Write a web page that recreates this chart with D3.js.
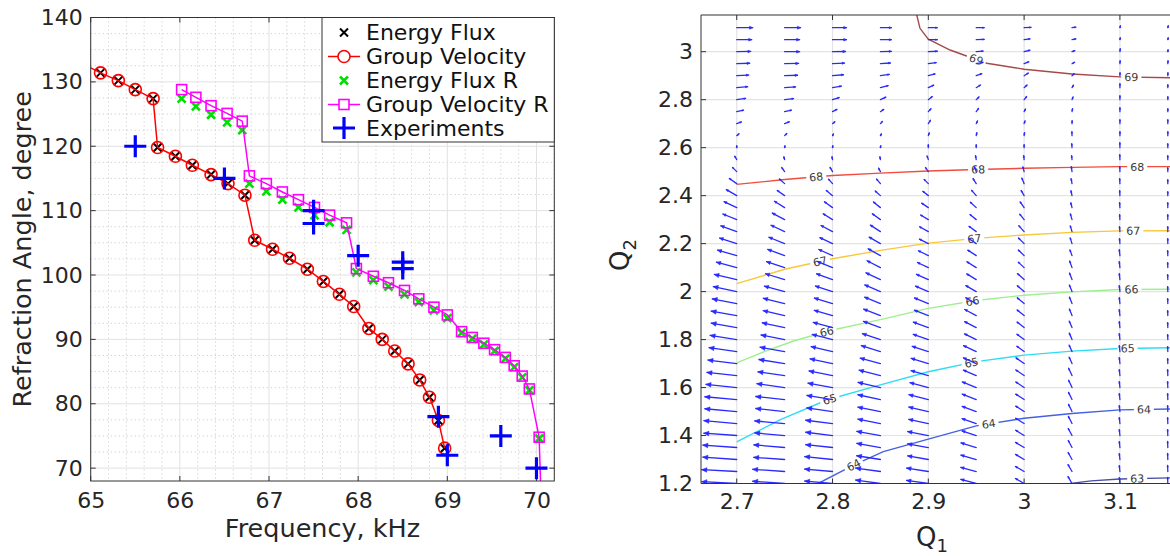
<!DOCTYPE html>
<html><head><meta charset="utf-8">
<script src="https://cdn.jsdelivr.net/npm/d3@7"></script>
<style>
body{margin:0;background:#fff;}
svg{display:block;font-family:"DejaVu Sans",sans-serif;}
</style></head><body>
<svg id="chart" width="1170" height="556"></svg>
<script>
// ---------------- LEFT PANEL DATA ----------------
const freqTicks = [65, 66, 67, 68, 69, 70];
const angleTicks = [70, 80, 90, 100, 110, 120, 130, 140];

const energyFluxFreq  = [64.92, 65.11, 65.31, 65.50, 65.70, 65.75, 65.95, 66.14, 66.35, 66.54, 66.73, 66.84, 67.04, 67.23, 67.43, 67.61, 67.79, 67.95, 68.12, 68.27, 68.41, 68.56, 68.69, 68.80, 68.90, 68.97];
const energyFluxAngle = [132.75, 131.4, 130.2, 128.8, 127.4, 119.8, 118.45, 117.05, 115.6, 114.2, 112.4, 105.4, 104.0, 102.6, 100.9, 99.0, 97.0, 95.1, 91.7, 90.0, 88.2, 86.2, 83.7, 81.0, 77.4, 73.1];
const groupVelFreq    = [64.92, 65.11, 65.31, 65.50, 65.70, 65.75, 65.95, 66.14, 66.35, 66.54, 66.73, 66.84, 67.04, 67.23, 67.43, 67.61, 67.79, 67.95, 68.12, 68.27, 68.41, 68.56, 68.69, 68.80, 68.90, 68.97];
const groupVelAngle   = [132.75, 131.4, 130.2, 128.8, 127.4, 119.8, 118.45, 117.05, 115.6, 114.2, 112.4, 105.4, 104.0, 102.6, 100.9, 99.0, 97.0, 95.1, 91.7, 90.0, 88.2, 86.2, 83.7, 81.0, 77.4, 73.1];

const energyFluxRFreq  = [66.02, 66.18, 66.35, 66.53, 66.70, 66.78, 66.97, 67.15, 67.33, 67.51, 67.68, 67.87, 67.98, 68.17, 68.34, 68.52, 68.68, 68.85, 69.00, 69.16, 69.28, 69.41, 69.53, 69.65, 69.75, 69.84, 69.92, 70.03];
const energyFluxRAngle = [127.4, 126.2, 124.9, 123.7, 122.5, 114.2, 113.0, 111.7, 110.5, 109.3, 108.2, 107.0, 100.4, 99.2, 98.2, 97.0, 95.8, 94.5, 93.3, 91.0, 90.1, 89.2, 88.2, 87.0, 85.7, 84.1, 82.1, 74.6];
const groupVelRFreq    = [66.02, 66.18, 66.35, 66.53, 66.70, 66.78, 66.97, 67.15, 67.33, 67.51, 67.68, 67.87, 67.98, 68.17, 68.34, 68.52, 68.68, 68.85, 69.00, 69.16, 69.28, 69.41, 69.53, 69.65, 69.75, 69.84, 69.92, 70.03, 70.05];
const groupVelRAngle   = [128.8, 127.6, 126.3, 125.1, 123.9, 115.4, 114.2, 112.9, 111.7, 110.5, 109.3, 108.1, 101.0, 99.8, 98.8, 97.6, 96.3, 95.0, 93.8, 91.2, 90.3, 89.4, 88.4, 87.2, 85.9, 84.3, 82.3, 74.8, 66.0];

const experimentFreq  = [65.5, 66.5, 67.5, 67.5, 68.0, 68.5, 68.5, 68.9, 69.0, 69.6, 70.0];
const experimentAngle = [120, 115, 110, 108, 103, 102, 101, 78, 72, 75, 70];

const legendLabels = ["Energy Flux", "Group Velocity", "Energy Flux R", "Group Velocity R", "Experiments"];

// ---------------- RIGHT PANEL DATA ----------------
const q1Ticks = [2.7, 2.8, 2.9, 3.0, 3.1];
const q1TickLabels = ["2.7", "2.8", "2.9", "3", "3.1"];
const q2Ticks = [1.2, 1.4, 1.6, 1.8, 2.0, 2.2, 2.4, 2.6, 2.8, 3.0];
const q2TickLabels = ["1.2", "1.4", "1.6", "1.8", "2", "2.2", "2.4", "2.6", "2.8", "3"];

const quiverQ1 = [2.7, 2.75, 2.8, 2.85, 2.9, 2.95, 3.0, 3.05, 3.1, 3.15];
const quiverQ2 = [1.2, 1.25, 1.3, 1.35, 1.4, 1.45, 1.5, 1.55, 1.6, 1.65, 1.7, 1.75, 1.8, 1.85, 1.9, 1.95, 2.0, 2.05, 2.1, 2.15, 2.2, 2.25, 2.3, 2.35, 2.4, 2.45, 2.5, 2.55, 2.6, 2.65, 2.7, 2.75, 2.8, 2.85, 2.9, 2.95, 3.0, 3.05, 3.1];
// vector magnitude (one row per Q1 column, bottom to top)
const quiverMag = [
 [35,35,34,34,33,33,32,32,31,30,29,28,27,26,26,25,24,23,21,20,18,17,15,14,12,9,6,4,2,3,5,7,9,11,12,13,14,15,16],
 [32,32,31,31,30,30,29,29,28,27,26,25,24,23,22,22,21,20,19,18,17,15,14,12,9,7,5,3,2,3,5,7,9,11,13,14,15,15,16],
 [28,28,28,27,27,27,26,26,25,24,23,22,21,20,19,19,18,17,16,15,14,13,11,10,8,6,5,3,2,2,3,5,7,9,11,12,13,14,14],
 [25,25,24,24,24,23,23,23,23,22,21,20,19,18,18,17,17,16,15,14,13,12,10,9,7,6,4,3,2,2,3,4,6,8,9,10,11,11,11],
 [22,22,21,21,21,20,20,20,19,18,18,17,16,16,15,15,14,13,12,11,10,10,9,8,7,6,5,4,3,3,4,4,5,6,7,8,9,9,9],
 [16,16,16,16,15,15,15,15,15,14,14,14,13,13,13,12,12,11,11,10,9,9,8,8,7,6,5,4,3,3,3,4,4,5,6,7,7,8,8],
 [10,10,10,10,10,10,10,10,10,10,10,9,9,9,9,9,9,9,8,8,8,8,7,7,6,6,5,4,3,3,3,3,4,4,5,5,6,6,7],
 [8,8,8,8,8,8,8,8,8,8,7,7,7,7,7,7,7,7,7,6,6,6,6,5,5,5,5,4,4,4,3,3,3,3,3,3,3,4,4],
 [6,6,6,6,6,6,6,6,6,6,6,6,6,6,6,6,6,6,6,6,5,5,5,5,5,5,5,5,5,4,4,4,4,4,3,3,3,2,2],
 [6,6,6,6,6,6,6,6,6,6,5,5,5,5,5,5,5,5,5,5,5,5,5,5,4,4,4,4,4,4,4,3,3,3,3,3,2,2,2]
];
// vector direction, degrees counter-clockwise from +Q1
const quiverDir = [
 [177,177,176,176,176,175,175,175,174,174,173,172,171,170,170,169,168,167,165,164,162,160,158,155,150,145,135,120,90,40,20,12,8,5,3,2,1,0,0],
 [176,176,176,175,175,175,174,174,172,172,171,170,169,168,167,166,165,163,162,160,158,155,152,148,145,138,125,105,80,45,22,12,7,4,2,1,0,0,0],
 [175,175,174,174,173,173,172,171,170,169,168,167,166,165,164,163,162,160,158,156,155,152,148,144,140,132,120,100,80,60,40,28,18,10,5,3,1,0,0],
 [172,172,171,170,170,169,169,168,167,166,165,163,162,160,159,158,157,155,153,151,150,147,144,141,138,130,118,100,80,62,48,35,25,15,8,4,2,0,0],
 [172,171,170,170,169,168,167,166,165,164,163,162,161,160,159,158,157,156,155,154,153,151,149,146,142,135,124,108,90,72,58,48,38,25,15,8,3,0,0],
 [165,165,164,163,162,161,160,159,158,157,156,155,154,153,152,151,150,149,148,147,146,144,141,137,131,122,110,100,90,78,65,55,45,32,20,10,5,2,0],
 [150,150,149,149,148,148,147,147,146,146,145,144,143,142,141,140,139,138,137,136,135,132,129,125,120,112,104,96,90,82,72,62,52,42,32,22,14,8,3],
 [120,120,119,118,118,117,116,116,115,115,114,114,113,113,112,112,112,111,110,110,108,107,106,104,102,100,98,96,94,92,88,80,70,60,45,30,20,12,8],
 [96,96,96,96,96,96,96,96,96,96,96,96,96,96,96,96,96,96,96,96,95,95,94,94,93,93,92,92,91,90,90,90,90,90,88,86,84,80,75],
 [92,92,92,92,92,92,92,92,92,92,92,92,92,92,92,92,92,92,92,92,91,91,91,91,91,91,91,91,91,90,90,90,90,90,88,86,84,80,78]
];

// contour lines (frequency levels, kHz)
const contourLevels = [63, 64, 65, 66, 67, 68, 69];
const contourQ1 = [
 [3.04, 3.07, 3.1, 3.16],
 [2.78, 2.785, 2.822, 2.853, 2.9, 2.95, 3.0, 3.05, 3.1, 3.16],
 [2.7, 2.745, 2.794, 2.85, 2.9, 2.95, 3.0, 3.05, 3.1, 3.16],
 [2.7, 2.73, 2.76, 2.8, 2.85, 2.9, 2.95, 3.0, 3.05, 3.1, 3.16],
 [2.7, 2.75, 2.8, 2.85, 2.9, 2.95, 3.0, 3.05, 3.1, 3.16],
 [2.7, 2.75, 2.8, 2.85, 2.9, 2.95, 3.0, 3.05, 3.1, 3.16],
 [2.8875, 2.8913, 2.9, 2.9227, 2.9435, 2.961, 3.0, 3.05, 3.1, 3.16]
];
const contourQ2 = [
 [1.196, 1.211, 1.219, 1.224],
 [1.19, 1.2, 1.277, 1.333, 1.385, 1.44, 1.472, 1.492, 1.507, 1.511],
 [1.374, 1.465, 1.548, 1.611, 1.666, 1.708, 1.735, 1.752, 1.763, 1.766],
 [1.703, 1.752, 1.795, 1.84, 1.883, 1.93, 1.963, 1.985, 1.999, 2.009, 2.01],
 [2.033, 2.093, 2.137, 2.172, 2.202, 2.222, 2.236, 2.247, 2.253, 2.254],
 [2.447, 2.467, 2.484, 2.494, 2.503, 2.509, 2.514, 2.518, 2.521, 2.521],
 [3.16, 3.0975, 3.052, 3.007, 2.977, 2.952, 2.927, 2.907, 2.895, 2.891]
];
const contourLabelQ1 = [
 [3.118],
 [2.822, 2.963, 3.125],
 [2.797, 2.945, 3.108],
 [2.794, 2.946, 3.112],
 [2.787, 2.948, 3.114],
 [2.783, 2.952, 3.118],
 [2.95, 3.112]
];
const contourColors = ["#4b4fa6", "#4560e2", "#2fdcf4", "#9eef8e", "#f7c83a", "#f14c3e", "#a54a4a"];

// ---------------- DRAW ----------------
const svg = d3.select("#chart");
const defs = svg.append("defs");
const axisColor = "#333";
const textColor = "#262626";

// ===== LEFT PANEL =====
const L = {x0: 90.7, x1: 554.3, y0: 17.5, y1: 481};
const xL = d3.scaleLinear().domain([65, 70.2]).range([L.x0, L.x1]);
const yL = d3.scaleLinear().domain([68, 140]).range([L.y1, L.y0]);
defs.append("clipPath").attr("id", "clipL").append("rect")
  .attr("x", L.x0).attr("y", L.y0).attr("width", L.x1 - L.x0).attr("height", L.y1 - L.y0);

const gL = svg.append("g");
// minor grid
const xMinor = d3.range(0, 27).map(i => 65 + i * 0.2).filter(v => Math.abs(v - Math.round(v)) > 1e-6);
const yMinor = d3.range(0, 29).map(i => 67.5 + i * 2.5).filter(v => v > 68 && v < 140 && v % 10 !== 0);
gL.append("g").selectAll("line").data(xMinor).join("line")
  .attr("x1", d => xL(d)).attr("x2", d => xL(d)).attr("y1", L.y0).attr("y2", L.y1)
  .attr("stroke", "#c4c4c4").attr("stroke-width", 1).attr("stroke-dasharray", "1,3");
gL.append("g").selectAll("line").data(yMinor).join("line")
  .attr("y1", d => yL(d)).attr("y2", d => yL(d)).attr("x1", L.x0).attr("x2", L.x1)
  .attr("stroke", "#c4c4c4").attr("stroke-width", 1).attr("stroke-dasharray", "1,3");
// major grid
gL.append("g").selectAll("line").data(freqTicks).join("line")
  .attr("x1", d => xL(d)).attr("x2", d => xL(d)).attr("y1", L.y0).attr("y2", L.y1)
  .attr("stroke", "#e2e2e2").attr("stroke-width", 1);
gL.append("g").selectAll("line").data(angleTicks).join("line")
  .attr("y1", d => yL(d)).attr("y2", d => yL(d)).attr("x1", L.x0).attr("x2", L.x1)
  .attr("stroke", "#e2e2e2").attr("stroke-width", 1);

// axes labels via d3 axes
const axB = gL.append("g").attr("transform", `translate(0,${L.y1})`)
  .call(d3.axisBottom(xL).tickValues(freqTicks).tickSize(0).tickPadding(11).tickFormat(d3.format("d")));
const axLft = gL.append("g").attr("transform", `translate(${L.x0},0)`)
  .call(d3.axisLeft(yL).tickValues(angleTicks).tickSize(0).tickPadding(8).tickFormat(d3.format("d")));
[axB, axLft].forEach(a => {
  a.select(".domain").remove();
  a.selectAll("text").attr("font-size", 22).attr("fill", textColor).attr("font-family", "DejaVu Sans");
});
// inward ticks all sides
const tk = 5;
freqTicks.forEach(v => {
  gL.append("line").attr("x1", xL(v)).attr("x2", xL(v)).attr("y1", L.y1).attr("y2", L.y1 - tk).attr("stroke", axisColor);
  gL.append("line").attr("x1", xL(v)).attr("x2", xL(v)).attr("y1", L.y0).attr("y2", L.y0 + tk).attr("stroke", axisColor);
});
angleTicks.forEach(v => {
  gL.append("line").attr("y1", yL(v)).attr("y2", yL(v)).attr("x1", L.x0).attr("x2", L.x0 + tk).attr("stroke", axisColor);
  gL.append("line").attr("y1", yL(v)).attr("y2", yL(v)).attr("x1", L.x1).attr("x2", L.x1 - tk).attr("stroke", axisColor);
});

// data
const plotL = gL.append("g").attr("clip-path", "url(#clipL)");
const xPath = s => `M${-s},${-s}L${s},${s}M${-s},${s}L${s},${-s}`;
const plusPath = s => `M${-s},0H${s}M0,${-s}V${s}`;
const zip = (a, b) => a.map((v, i) => [v, b[i]]);
const lineL = d3.line().x(d => xL(d[0])).y(d => yL(d[1]));

// Energy Flux (black x)
plotL.append("g").selectAll("path").data(zip(energyFluxFreq, energyFluxAngle)).join("path")
  .attr("transform", d => `translate(${xL(d[0])},${yL(d[1])})`).attr("d", xPath(4))
  .attr("stroke", "#000").attr("stroke-width", 2).attr("fill", "none");
// Group Velocity (red line + circles)
plotL.append("path").datum(zip(groupVelFreq, groupVelAngle)).attr("d", lineL)
  .attr("fill", "none").attr("stroke", "#ff0000").attr("stroke-width", 1.5);
plotL.append("g").selectAll("circle").data(zip(groupVelFreq, groupVelAngle)).join("circle")
  .attr("cx", d => xL(d[0])).attr("cy", d => yL(d[1])).attr("r", 6)
  .attr("fill", "none").attr("stroke", "#ff0000").attr("stroke-width", 1.6);
// Energy Flux R (green x)
plotL.append("g").selectAll("path").data(zip(energyFluxRFreq, energyFluxRAngle)).join("path")
  .attr("transform", d => `translate(${xL(d[0])},${yL(d[1])})`).attr("d", xPath(4))
  .attr("stroke", "#00e000").attr("stroke-width", 2.6).attr("fill", "none");
// Group Velocity R (magenta line + squares)
plotL.append("path").datum(zip(groupVelRFreq, groupVelRAngle)).attr("d", lineL)
  .attr("fill", "none").attr("stroke", "#ff00ff").attr("stroke-width", 1.5);
plotL.append("g").selectAll("rect").data(zip(groupVelRFreq, groupVelRAngle)).join("rect")
  .attr("x", d => xL(d[0]) - 5).attr("y", d => yL(d[1]) - 5).attr("width", 10).attr("height", 10)
  .attr("fill", "none").attr("stroke", "#ff00ff").attr("stroke-width", 1.6);
// Experiments (blue +)
plotL.append("g").selectAll("path").data(zip(experimentFreq, experimentAngle)).join("path")
  .attr("transform", d => `translate(${xL(d[0])},${yL(d[1])})`).attr("d", plusPath(11))
  .attr("stroke", "#0000ff").attr("stroke-width", 3.2).attr("fill", "none");

// frame
gL.append("rect").attr("x", L.x0).attr("y", L.y0).attr("width", L.x1 - L.x0).attr("height", L.y1 - L.y0)
  .attr("fill", "none").attr("stroke", axisColor).attr("stroke-width", 1);

// legend
const lg = gL.append("g");
lg.append("rect").attr("x", 322).attr("y", L.y0).attr("width", L.x1 - 322).attr("height", 142 - L.y0)
  .attr("fill", "#fff").attr("stroke", axisColor).attr("stroke-width", 1);
const legRowY = [32.5, 56.5, 80.5, 104.5, 128];
const legX0 = 328, legX1 = 360, legXm = 344;
legendLabels.forEach((t, i) => {
  const y = legRowY[i];
  if (i === 1 || i === 3) {
    lg.append("line").attr("x1", legX0).attr("x2", legX1).attr("y1", y).attr("y2", y)
      .attr("stroke", i === 1 ? "#ff0000" : "#ff00ff").attr("stroke-width", 1.5);
  }
  if (i === 0) lg.append("path").attr("transform", `translate(${legXm},${y})`).attr("d", xPath(4)).attr("stroke", "#000").attr("stroke-width", 2);
  if (i === 1) lg.append("circle").attr("cx", legXm).attr("cy", y).attr("r", 6).attr("fill", "#fff").attr("stroke", "#ff0000").attr("stroke-width", 1.6);
  if (i === 2) lg.append("path").attr("transform", `translate(${legXm},${y})`).attr("d", xPath(4)).attr("stroke", "#00e000").attr("stroke-width", 2.6);
  if (i === 3) lg.append("rect").attr("x", legXm - 5).attr("y", y - 5).attr("width", 10).attr("height", 10).attr("fill", "#fff").attr("stroke", "#ff00ff").attr("stroke-width", 1.6);
  if (i === 4) lg.append("path").attr("transform", `translate(${legXm},${y})`).attr("d", plusPath(11)).attr("stroke", "#0000ff").attr("stroke-width", 3.2);
  lg.append("text").attr("x", 366).attr("y", y).attr("dy", "0.36em").attr("font-size", 22)
    .attr("fill", "#111").text(t);
});

// axis titles
gL.append("text").attr("x", (L.x0 + L.x1) / 2).attr("y", 537).attr("text-anchor", "middle")
  .attr("font-size", 25.5).attr("fill", textColor).text("Frequency, kHz");
gL.append("text").attr("transform", `translate(31,${(L.y0 + L.y1) / 2}) rotate(-90)`).attr("text-anchor", "middle")
  .attr("font-size", 25.5).attr("fill", textColor).text("Refraction Angle, degree");

// ===== RIGHT PANEL =====
const R = {x0: 701, x1: 1175, y0: 15, y1: 483.5};
const xR = d3.scaleLinear().domain([2.6627, 3.1575]).range([R.x0, R.x1]);
const yR = d3.scaleLinear().domain([1.2, 3.153]).range([R.y1, R.y0]);
defs.append("clipPath").attr("id", "clipR").append("rect")
  .attr("x", R.x0).attr("y", R.y0).attr("width", R.x1 - R.x0).attr("height", R.y1 - R.y0);
const gR = svg.append("g");
// grid
gR.append("g").selectAll("line").data(q1Ticks).join("line")
  .attr("x1", d => xR(d)).attr("x2", d => xR(d)).attr("y1", R.y0).attr("y2", R.y1)
  .attr("stroke", "#e4e4e4").attr("stroke-width", 1.2);
gR.append("g").selectAll("line").data(q2Ticks).join("line")
  .attr("y1", d => yR(d)).attr("y2", d => yR(d)).attr("x1", R.x0).attr("x2", R.x1)
  .attr("stroke", "#e4e4e4").attr("stroke-width", 1.2);

const axRB = gR.append("g").attr("transform", `translate(0,${R.y1})`)
  .call(d3.axisBottom(xR).tickValues(q1Ticks).tickSize(0).tickPadding(9.5).tickFormat((d, i) => q1TickLabels[i]));
const axRL = gR.append("g").attr("transform", `translate(${R.x0},0)`)
  .call(d3.axisLeft(yR).tickValues(q2Ticks).tickSize(0).tickPadding(8).tickFormat((d, i) => q2TickLabels[i]));
[axRB, axRL].forEach(a => {
  a.select(".domain").remove();
  a.selectAll("text").attr("font-size", 22).attr("fill", textColor).attr("font-family", "DejaVu Sans");
});
q1Ticks.forEach(v => {
  gR.append("line").attr("x1", xR(v)).attr("x2", xR(v)).attr("y1", R.y1).attr("y2", R.y1 - tk).attr("stroke", axisColor);
  gR.append("line").attr("x1", xR(v)).attr("x2", xR(v)).attr("y1", R.y0).attr("y2", R.y0 + tk).attr("stroke", axisColor);
});
q2Ticks.forEach(v => {
  gR.append("line").attr("y1", yR(v)).attr("y2", yR(v)).attr("x1", R.x0).attr("x2", R.x0 + tk).attr("stroke", axisColor);
});

const plotR = gR.append("g").attr("clip-path", "url(#clipR)");

// contour labels geometry + mask
const mask = defs.append("mask").attr("id", "cmask").attr("maskUnits", "userSpaceOnUse")
  .attr("x", 0).attr("y", 0).attr("width", 1170).attr("height", 556);
mask.append("rect").attr("width", 1170).attr("height", 556).attr("fill", "#fff");
const labelInfo = [];
contourLevels.forEach((lev, k) => {
  const px = contourQ1[k].map(v => xR(v)), py = contourQ2[k].map(v => yR(v));
  contourLabelQ1[k].forEach(q => {
    const tx = xR(q);
    let i = 0;
    while (i < px.length - 2 && px[i + 1] < tx) i++;
    const t = (tx - px[i]) / (px[i + 1] - px[i]);
    const ty = py[i] + t * (py[i + 1] - py[i]);
    const ang = Math.atan2(py[i + 1] - py[i], px[i + 1] - px[i]) * 180 / Math.PI;
    labelInfo.push({x: tx, y: ty, a: ang, t: String(lev)});
    mask.append("rect").attr("x", -10).attr("y", -6).attr("width", 20).attr("height", 12)
      .attr("transform", `translate(${tx},${ty}) rotate(${ang})`).attr("fill", "#000");
  });
});
const lineR = d3.line().x(d => xR(d[0])).y(d => yR(d[1]));
const cg = plotR.append("g").attr("mask", "url(#cmask)");
contourLevels.forEach((lev, k) => {
  cg.append("path").datum(zip(contourQ1[k], contourQ2[k])).attr("d", lineR)
    .attr("fill", "none").attr("stroke", contourColors[k]).attr("stroke-width", 1.4);
});
plotR.append("g").selectAll("text").data(labelInfo).join("text")
  .attr("transform", d => `translate(${d.x},${d.y}) rotate(${d.a})`)
  .attr("text-anchor", "middle").attr("dy", "0.36em").attr("font-size", 11).attr("fill", "#3a3a3a")
  .text(d => d.t);

// quiver arrows: shaft + small filled head
const arrowScale = 1;
const arrows = [];
quiverQ1.forEach((q1, c) => {
  quiverQ2.forEach((q2, r) => {
    const bx = xR(q1), by = yR(q2);
    const len = quiverMag[c][r] * arrowScale;
    const th = quiverDir[c][r] * Math.PI / 180;
    const ux = Math.cos(th), uy = -Math.sin(th);
    arrows.push({bx, by, tx: bx + len * ux, ty: by + len * uy, ux, uy, len});
  });
});
const qg = plotR.append("g");
qg.selectAll("line").data(arrows).join("line")
  .attr("x1", d => d.bx).attr("y1", d => d.by).attr("x2", d => d.tx).attr("y2", d => d.ty)
  .attr("stroke", "#2a2aff").attr("stroke-width", 1.3).attr("stroke-linecap", "round");
qg.selectAll("path").data(arrows).join("path")
  .attr("d", d => {
    const h = Math.min(5, Math.max(1.6, 0.2 * d.len)), w = h * 0.45;
    const bxh = d.tx - h * d.ux, byh = d.ty - h * d.uy;
    const nx = -d.uy, ny = d.ux;
    return `M${d.tx},${d.ty}L${bxh + w * nx},${byh + w * ny}L${bxh - w * nx},${byh - w * ny}Z`;
  })
  .attr("fill", "#2a2aff").attr("stroke", "#2a2aff").attr("stroke-width", 0.6);

// frame (left, top, bottom)
gR.append("path").attr("d", `M${R.x1},${R.y0}H${R.x0}V${R.y1}H${R.x1}`)
  .attr("fill", "none").attr("stroke", axisColor).attr("stroke-width", 1);

// axis titles
const t1 = gR.append("text").attr("x", 932).attr("y", 546).attr("text-anchor", "middle").attr("fill", textColor);
t1.append("tspan").attr("font-size", 26).text("Q");
t1.append("tspan").attr("font-size", 18).attr("dy", 6).text("1");
const t2 = gR.append("text").attr("transform", `translate(629,255) rotate(-90)`).attr("text-anchor", "middle").attr("fill", textColor);
t2.append("tspan").attr("font-size", 26).text("Q");
t2.append("tspan").attr("font-size", 18).attr("dy", 7).text("2");
</script></body></html>
